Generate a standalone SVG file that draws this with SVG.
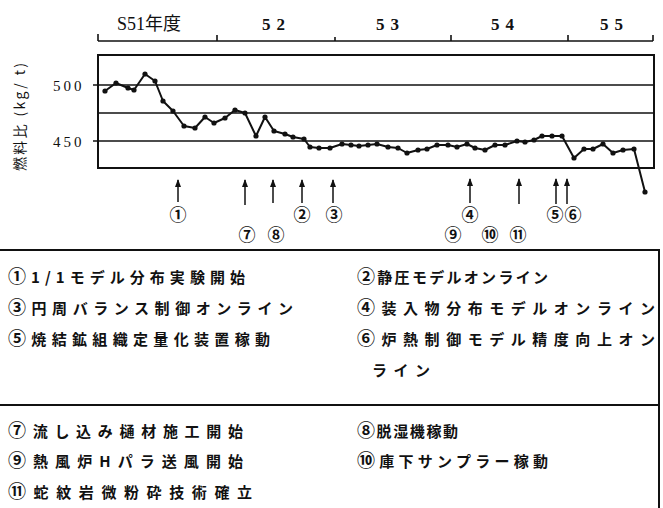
<svg xmlns="http://www.w3.org/2000/svg" width="663" height="508" viewBox="0 0 663 508">
<defs>
<style>
.ax{stroke:#111;stroke-width:1.6;fill:none}
.grid{stroke:#111;stroke-width:1.6}
.box{stroke:#111;stroke-width:2;fill:none}
.data{stroke:#111;stroke-width:2;fill:none;stroke-linejoin:round}
.dot{fill:#111}
.yr{font-family:"Liberation Serif","Noto Sans CJK JP",serif;font-size:18px;fill:#111}
.yn{font-family:"Liberation Serif",serif;font-size:17px;fill:#111;font-weight:bold;letter-spacing:6px}
.num{font-family:"Liberation Serif",serif;font-size:15px;fill:#111;letter-spacing:3px}
.ylab{font-family:"Noto Sans CJK JP",sans-serif;font-size:14px;fill:#111}
.circ{font-family:"Noto Sans CJK JP",sans-serif;font-size:17px;fill:#111;text-anchor:middle;font-weight:bold}
.tx{font-family:"Noto Sans CJK JP",sans-serif;font-size:15px;fill:#111;font-weight:bold}
.cn{font-size:18px}
.arr{stroke:#111;stroke-width:1.5}
</style>
<marker id="ah" markerWidth="8" markerHeight="6" refX="7" refY="3" orient="auto" markerUnits="userSpaceOnUse" viewBox="0 0 8 6">
<path d="M0,0 L8,3 L0,6 Z" fill="#111"/>
</marker>
</defs>
<rect width="663" height="508" fill="#fff"/>

<g id="year-axis">
<line class="ax" x1="98" y1="41" x2="653" y2="41"/>
<line class="ax" x1="98" y1="34" x2="98" y2="41"/>
<line class="ax" x1="217" y1="35" x2="217" y2="41"/>
<line class="ax" x1="335" y1="37" x2="335" y2="41"/>
<line class="ax" x1="451" y1="35" x2="451" y2="41"/>
<line class="ax" x1="568" y1="35" x2="568" y2="41"/>
<line class="ax" x1="653" y1="35" x2="653" y2="41"/>
<text class="yr" x="117" y="30">S51年度</text>
<text class="yn" x="262" y="30">52</text>
<text class="yn" x="376" y="30">53</text>
<text class="yn" x="491" y="30">54</text>
<text class="yn" x="600" y="30">55</text>
</g>

<g id="chart">
<rect class="box" x="98" y="55" width="556" height="113"/>
<line class="grid" x1="93" y1="85" x2="654" y2="85"/>
<line class="grid" x1="98" y1="113" x2="654" y2="113"/>
<line class="grid" x1="93" y1="141" x2="654" y2="141"/>
<text class="num" x="53" y="91">500</text>
<text class="num" x="53" y="147">450</text>
<text class="ylab" transform="translate(25,117) rotate(-90)" text-anchor="middle" textLength="108" lengthAdjust="spacing">燃料比 (kg/ t)</text>
<polyline class="data" points="105,91 116,83 128,88 134,90 145,74 155,81 163,101 173,111 184,126 195,128 205,117 214,123 225,118 235,110 245,113 256,136 265,117 274,131 285,134 293,137 304,139 310,147 319,148 330,148 342,144 351,145 359,146 368,145 377,144 388,147 398,148 407,153 418,150 427,149 437,145 448,145 457,147 467,144 475,148 485,150 495,145 505,145 517,141 525,142 534,140 542,136 552,136 562,136 574,158 584,149 593,149 603,144 613,153 623,150 634,149 645,192"/>
<g class="dot">
<circle cx="105" cy="91" r="2.6"/><circle cx="116" cy="83" r="2.6"/><circle cx="128" cy="88" r="2.6"/><circle cx="134" cy="90" r="2.6"/><circle cx="145" cy="74" r="2.6"/><circle cx="155" cy="81" r="2.6"/><circle cx="163" cy="101" r="2.6"/><circle cx="173" cy="111" r="2.6"/><circle cx="184" cy="126" r="2.6"/><circle cx="195" cy="128" r="2.6"/><circle cx="205" cy="117" r="2.6"/><circle cx="214" cy="123" r="2.6"/><circle cx="225" cy="118" r="2.6"/><circle cx="235" cy="110" r="2.6"/><circle cx="245" cy="113" r="2.6"/><circle cx="256" cy="136" r="2.6"/><circle cx="265" cy="117" r="2.6"/><circle cx="274" cy="131" r="2.6"/><circle cx="285" cy="134" r="2.6"/><circle cx="293" cy="137" r="2.6"/><circle cx="304" cy="139" r="2.6"/><circle cx="310" cy="147" r="2.6"/><circle cx="319" cy="148" r="2.6"/><circle cx="330" cy="148" r="2.6"/><circle cx="342" cy="144" r="2.6"/><circle cx="351" cy="145" r="2.6"/><circle cx="359" cy="146" r="2.6"/><circle cx="368" cy="145" r="2.6"/><circle cx="377" cy="144" r="2.6"/><circle cx="388" cy="147" r="2.6"/><circle cx="398" cy="148" r="2.6"/><circle cx="407" cy="153" r="2.6"/><circle cx="418" cy="150" r="2.6"/><circle cx="427" cy="149" r="2.6"/><circle cx="437" cy="145" r="2.6"/><circle cx="448" cy="145" r="2.6"/><circle cx="457" cy="147" r="2.6"/><circle cx="467" cy="144" r="2.6"/><circle cx="475" cy="148" r="2.6"/><circle cx="485" cy="150" r="2.6"/><circle cx="495" cy="145" r="2.6"/><circle cx="505" cy="145" r="2.6"/><circle cx="517" cy="141" r="2.6"/><circle cx="525" cy="142" r="2.6"/><circle cx="534" cy="140" r="2.6"/><circle cx="542" cy="136" r="2.6"/><circle cx="552" cy="136" r="2.6"/><circle cx="562" cy="136" r="2.6"/><circle cx="574" cy="158" r="2.6"/><circle cx="584" cy="149" r="2.6"/><circle cx="593" cy="149" r="2.6"/><circle cx="603" cy="144" r="2.6"/><circle cx="613" cy="153" r="2.6"/><circle cx="623" cy="150" r="2.6"/><circle cx="634" cy="149" r="2.6"/><circle cx="645" cy="192" r="2.6"/>
</g>
</g>

<g id="connectors">
<line class="arr" x1="178" y1="202" x2="178" y2="180" marker-end="url(#ah)"/>
<line class="arr" x1="245" y1="205" x2="245" y2="180" marker-end="url(#ah)"/>
<line class="arr" x1="273" y1="203" x2="273" y2="180" marker-end="url(#ah)"/>
<line class="arr" x1="302" y1="203" x2="302" y2="180" marker-end="url(#ah)"/>
<line class="arr" x1="333" y1="203" x2="333" y2="180" marker-end="url(#ah)"/>
<line class="arr" x1="470" y1="203" x2="470" y2="179" marker-end="url(#ah)"/>
<line class="arr" x1="519" y1="204" x2="519" y2="179" marker-end="url(#ah)"/>
<line class="arr" x1="556" y1="204" x2="556" y2="179" marker-end="url(#ah)"/>
<line class="arr" x1="567" y1="204" x2="567" y2="179" marker-end="url(#ah)"/>
</g>

<g id="event-labels">
<text class="circ" x="178" y="221">①</text>
<text class="circ" x="302" y="221">②</text>
<text class="circ" x="334" y="221">③</text>
<text class="circ" x="470" y="221">④</text>
<text class="circ" x="555" y="221">⑤</text>
<text class="circ" x="573" y="221">⑥</text>
<text class="circ" x="247" y="241">⑦</text>
<text class="circ" x="276" y="241">⑧</text>
<text class="circ" x="453" y="241">⑨</text>
<text class="circ" x="490" y="241">⑩</text>
<text class="circ" x="518" y="241">⑪</text>
</g>

<g id="legend">
<line class="box" x1="0" y1="250" x2="660" y2="250"/>
<line class="box" x1="659" y1="250" x2="659" y2="508"/>
<line class="box" x1="0" y1="405" x2="659" y2="405"/>
<text class="tx" x="8" y="283" textLength="237" lengthAdjust="spacing"><tspan class="cn">①</tspan>1/1モデル分布実験開始</text>
<text class="tx" x="357" y="283" textLength="191" lengthAdjust="spacing"><tspan class="cn">②</tspan>静圧モデルオンライン</text>
<text class="tx" x="8" y="314" textLength="285" lengthAdjust="spacing"><tspan class="cn">③</tspan>円周バランス制御オンライン</text>
<text class="tx" x="357" y="314" textLength="298" lengthAdjust="spacing"><tspan class="cn">④</tspan>装入物分布モデルオンライン</text>
<text class="tx" x="8" y="345" textLength="262" lengthAdjust="spacing"><tspan class="cn">⑤</tspan>焼結鉱組織定量化装置稼動</text>
<text class="tx" x="357" y="345" textLength="298" lengthAdjust="spacing"><tspan class="cn">⑥</tspan>炉熱制御モデル精度向上オン</text>
<text class="tx" x="372" y="376" textLength="58" lengthAdjust="spacing">ライン</text>
<text class="tx" x="8" y="437" textLength="235" lengthAdjust="spacing"><tspan class="cn">⑦</tspan>流し込み樋材施工開始</text>
<text class="tx" x="357" y="437" textLength="101" lengthAdjust="spacing"><tspan class="cn">⑧</tspan>脱湿機稼動</text>
<text class="tx" x="8" y="467" textLength="235" lengthAdjust="spacing"><tspan class="cn">⑨</tspan>熱風炉Hパラ送風開始</text>
<text class="tx" x="357" y="467" textLength="191" lengthAdjust="spacing"><tspan class="cn">⑩</tspan>庫下サンプラー稼動</text>
<text class="tx" x="8" y="498" textLength="244" lengthAdjust="spacing"><tspan class="cn">⑪</tspan>蛇紋岩微粉砕技術確立</text>
</g>
</svg>
